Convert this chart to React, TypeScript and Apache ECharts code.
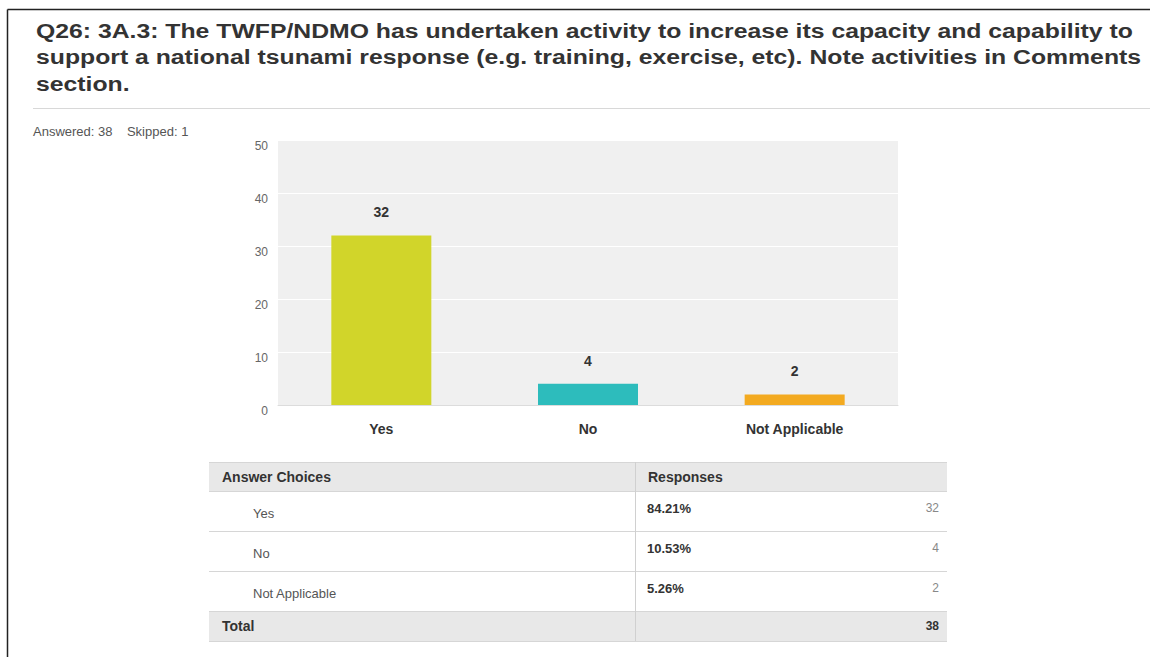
import React, { useEffect, useRef } from "react";
import * as echarts from "echarts";

// Survey question and response data
const titleLines = [
  "Q26: 3A.3: The TWFP/NDMO has undertaken activity to increase its capacity and capability to",
  "support a national tsunami response (e.g. training, exercise, etc). Note activities in Comments",
  "section.",
];
const answeredCount = 38;
const skippedCount = 1;
const categories = ["Yes", "No", "Not Applicable"];
const counts = [32, 4, 2];
const barColors = ["#d1d52a", "#2dbcbc", "#f3aa20"];
const yTicks = { min: 0, max: 50, interval: 10 };

const FONT = "'Liberation Sans', Arial, Helvetica, sans-serif";

export default function App() {
  const ref = useRef<HTMLDivElement>(null);

  useEffect(() => {
    if (!ref.current) return;
    const chart = echarts.init(ref.current, undefined, { renderer: "svg" });

    const total = counts.reduce((a, b) => a + b, 0);
    const pct = counts.map((c) => ((c / total) * 100).toFixed(2) + "%");

    // Response table layout
    const tL = 209;
    const tR = 947;
    const tDiv = 635;
    const headTop = 462;
    const headH = 29;
    const rowH = 40;
    const rowsTop = headTop + headH;
    const totalTop = rowsTop + rowH * categories.length;
    const totalH = 30;

    const tableEls: any[] = [];
    tableEls.push({
      type: "rect",
      shape: { x: tL, y: headTop, width: tR - tL, height: headH },
      style: { fill: "#e8e8e8" },
    });
    tableEls.push({
      type: "rect",
      shape: { x: tL, y: totalTop, width: tR - tL, height: totalH },
      style: { fill: "#e8e8e8" },
    });
    const hLines = [headTop, rowsTop];
    categories.forEach((_, i) => hLines.push(rowsTop + rowH * (i + 1)));
    hLines.push(totalTop + totalH);
    hLines.forEach((y) =>
      tableEls.push({
        type: "line",
        shape: { x1: tL, y1: y + 0.5, x2: tR, y2: y + 0.5 },
        style: { stroke: "#d6d6d6", lineWidth: 1 },
      })
    );
    tableEls.push({
      type: "line",
      shape: { x1: tDiv + 0.5, y1: headTop, x2: tDiv + 0.5, y2: totalTop + totalH },
      style: { stroke: "#d0d0d0", lineWidth: 1 },
    });
    tableEls.push({
      type: "text",
      x: tL + 13,
      y: headTop + headH / 2,
      style: { text: "Answer Choices", font: `bold 14px ${FONT}`, fill: "#333", verticalAlign: "middle" },
    });
    tableEls.push({
      type: "text",
      x: tDiv + 13,
      y: headTop + headH / 2,
      style: { text: "Responses", font: `bold 14px ${FONT}`, fill: "#333", verticalAlign: "middle" },
    });
    categories.forEach((cat, i) => {
      const top = rowsTop + rowH * i;
      tableEls.push({
        type: "text",
        x: tL + 44,
        y: top + 22,
        style: { text: cat, font: `13px ${FONT}`, fill: "#555", verticalAlign: "middle" },
      });
      tableEls.push({
        type: "text",
        x: tDiv + 12,
        y: top + 17,
        style: { text: pct[i], font: `bold 13px ${FONT}`, fill: "#333", verticalAlign: "middle" },
      });
      tableEls.push({
        type: "text",
        x: tR - 8,
        y: top + 17,
        style: { text: String(counts[i]), font: `12px ${FONT}`, fill: "#888", align: "right", verticalAlign: "middle" },
      });
    });
    tableEls.push({
      type: "text",
      x: tL + 13,
      y: totalTop + totalH / 2,
      style: { text: "Total", font: `bold 14px ${FONT}`, fill: "#333", verticalAlign: "middle" },
    });
    tableEls.push({
      type: "text",
      x: tR - 8,
      y: totalTop + totalH / 2,
      style: { text: String(total), font: `bold 12px ${FONT}`, fill: "#333", align: "right", verticalAlign: "middle" },
    });

    // Question title, drawn slightly widened
    const titleEls = titleLines.map((line, i) => ({
      type: "text",
      x: 36,
      y: 30.5 + i * 26.5,
      scaleX: 1.18,
      style: { text: line, font: `bold 21px ${FONT}`, fill: "#333", verticalAlign: "middle" },
    }));

    chart.setOption({
      animation: false,
      backgroundColor: "#fff",
      grid: {
        left: 278,
        right: 252,
        top: 140,
        bottom: 252,
        show: true,
        backgroundColor: "#f0f0f0",
        borderWidth: 0,
      },
      xAxis: {
        type: "category",
        data: categories,
        axisTick: { show: false },
        axisLine: { lineStyle: { color: "#dcdcdc", width: 1 } },
        axisLabel: {
          margin: 17,
          color: "#333",
          fontWeight: "bold",
          fontSize: 14,
          fontFamily: FONT,
        },
      },
      yAxis: {
        type: "value",
        min: yTicks.min,
        max: yTicks.max,
        interval: yTicks.interval,
        axisLine: { show: false },
        axisTick: { show: false },
        splitLine: { lineStyle: { color: "#ffffff", width: 1 } },
        axisLabel: {
          margin: 10,
          color: "#666",
          fontSize: 12,
          fontFamily: FONT,
          verticalAlign: "top",
        },
      },
      series: [
        {
          type: "bar",
          barWidth: 100,
          data: counts.map((v, i) => ({ value: v, itemStyle: { color: barColors[i] } })),
          label: {
            show: true,
            position: "top",
            distance: 16,
            color: "#333",
            fontWeight: "bold",
            fontSize: 14,
            fontFamily: FONT,
          },
        },
      ],
      graphic: [
        // page frame
        {
          type: "line",
          shape: { x1: 7.5, y1: 9.5, x2: 7.5, y2: 657 },
          style: { stroke: "#222", lineWidth: 1.5 },
        },
        {
          type: "line",
          shape: { x1: 7.5, y1: 9.5, x2: 1150, y2: 9.5 },
          style: { stroke: "#222", lineWidth: 1.5 },
        },
        ...titleEls,
        {
          type: "line",
          shape: { x1: 33, y1: 108.5, x2: 1150, y2: 108.5 },
          style: { stroke: "#d8d8d8", lineWidth: 1 },
        },
        {
          type: "text",
          x: 33,
          y: 131,
          style: {
            text: `Answered: ${answeredCount}    Skipped: ${skippedCount}`,
            font: `13px ${FONT}`,
            fill: "#555",
            verticalAlign: "middle",
          },
        },
        ...tableEls,
      ],
    });

    return () => chart.dispose();
  }, []);

  return (
    <div
      ref={ref}
      style={{ position: "fixed", left: 0, top: 0, width: 1150, height: 657 }}
    />
  );
}
